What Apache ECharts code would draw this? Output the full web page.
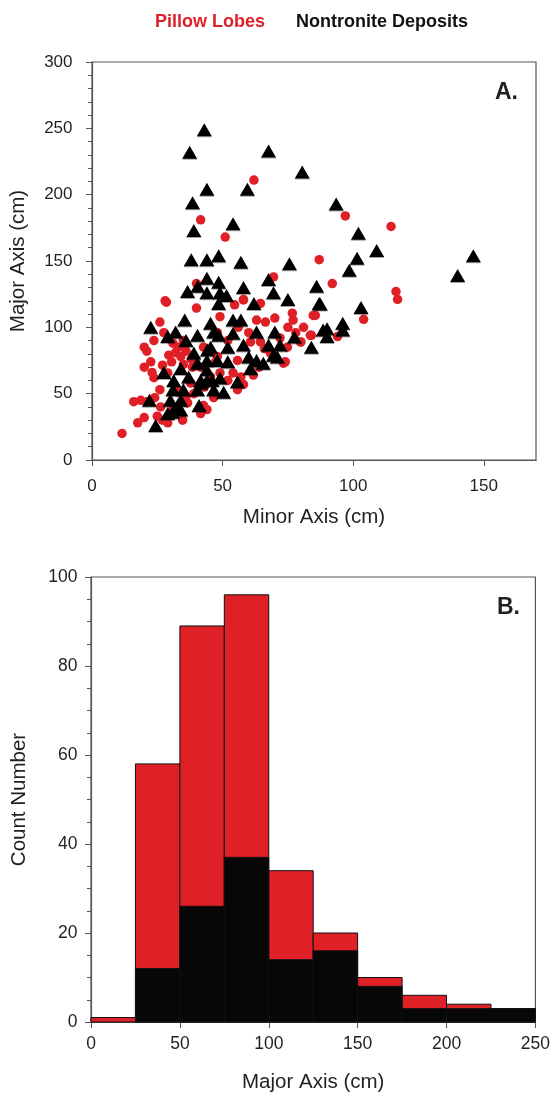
<!DOCTYPE html>
<html>
<head>
<meta charset="utf-8">
<script src="https://cdn.jsdelivr.net/npm/echarts@6/dist/echarts.min.js"></script>
<style>
html,body{margin:0;padding:0;background:#fff;}
#chart{width:553px;height:1095px;}
</style>
</head>
<body>
<div id="chart"></div>
<script>
// ---- Data ----
const seriesNames = ['Pillow Lobes', 'Nontronite Deposits'];

// Panel A: [minor axis (cm), major axis (cm)]
const pillowLobes = [
  [11.5,20],[16,44],[18.7,45],[21,44],[17.5,28],[20,32],[24,47],[26,53],[20,70],[22.5,74],
  [23,66],[23.7,62],[20,85],[21,82],[23.7,90],[27.5,96],[26,104],[28.5,119],[40,114.5],[29.4,79],
  [32,81],[30.5,74],[34,78],[29,65.6],[32.8,53],[36.6,43],[41.6,35],[29,28],[30.9,38],[37.8,58],
  [41.6,70],[45.4,62.6],[48,78],[35,90],[48,96],[44,38],[34.7,30],[26.3,40],[38.5,70],[27,71.5],
  [54.6,117],[58,120.6],[64.5,118],[49,108],[63,105.5],[66.4,104],[70,107],[76.7,110.7],[77,105.5],[75,100],
  [84.7,109],[83.6,94],[79.8,89],[74.8,85],[73.3,73],[68.3,80.6],[64.5,89],[60.7,89],[55.7,75],[61.8,64],
  [57,62.6],[49,65.6],[47.3,74],[42.7,85],[52,60],[55.7,53],[46.6,47],[42.7,41],[62,211],[41.6,181],
  [51,168],[69.5,138],[40,133],[28,120],[58,121],[87,151],[97,184],[114.5,176],[92,133],[116.4,127],
  [117,121],[85.5,109],[104,106],[84,94],[94,93],[80,89],[54,65.6],[74,74],
  [33,85],[36,82],[31,88],[38,76],[35,72],[39,50],[43,55],[36,48],[25,33],[27,30],
  [58,57],[64,70],[70,78],[66,84],[72,92],[78,96],[81,100],[60,96],[52,90],[56,100]
];
const nontronite = [
  [43,249],[37.4,232],[67.6,233],[80.5,217],[44,204],[59.5,204],[38.5,194],[93.5,193],[54,178],[39,173],
  [102,171],[109,158],[101.5,152],[98.5,143],[146,154],[140,139],[86,131],[87,118],[103,115],[96,103],
  [96,98],[90,99],[90,93],[84,85],
  [38,151],[44,151],[48.5,154],[57,149],[75.6,148],[44,137],[48.5,134],[40.5,131],[36.6,127],[58,130],
  [67.6,136],[69.5,126],[75,121],[44,126],[49,126],[51.5,124],[87.4,117.5],[62,118],[48.5,118],
  [45.4,103],[54,105.5],[57,105.5],[63,96.5],[70,96.5],[54,95.6],[48.5,94],[77.5,92.7],[88.5,98],[67.6,86.7],
  [72,86.7],[58,86.7],[52,85],[45.4,85],[71,77.6],[60,77.6],[63,75],[65.6,73],[44,75],[52,74],
  [60.7,69],[55.7,59],[49,61.8],[44,68],[41.6,58],[46.6,53],[50.4,51],[48,75],[44,60],[69.5,79],
  [22.5,100],[35.5,105.5],[32,96.5],[29,93],[36,90],[40.4,94],[44.2,83],[39,80.6],[34,69],[27.5,66],
  [40.4,73],[31.3,60],[37,62.6],[41.6,60],[46,60],[35,53],[31,53],[40.4,53],[22,45],[30,45],
  [34,45],[30.9,36],[29,35],[34,37.7],[41,41],[24.4,26],[32.8,41],[46.6,96.5]
];

// Panel B: histogram of major axis, bins of 25 cm
const binStarts = [0, 25, 50, 75, 100, 125, 150, 175, 200, 225];
const binEnds   = [25, 50, 75, 100, 125, 150, 175, 200, 225, 250];
const pillowCounts     = [1, 58, 89, 96, 34, 20, 10, 6, 4, 3];
const nontroniteCounts = [0, 12, 26, 37, 14, 16, 8, 3, 3, 3];

// Tick labels
const aXTicks = [0, 50, 100, 150];
const aYTicks = [0, 50, 100, 150, 200, 250, 300];
const bXTicks = [0, 50, 100, 150, 200, 250];
const bYTicks = [0, 20, 40, 60, 80, 100];

// ---- Styles ----
const RED = '#df2027';
const BLACK = '#000000';
const TXT = '#231f20';
const AXC = '#555555';
const FONT = 'Liberation Sans, Arial, Helvetica, sans-serif';

const chart = echarts.init(document.getElementById('chart'), null, {renderer: 'canvas'});

function histData(counts) {
  return binStarts.map((s, i) => [s, binEnds[i], counts[i]]);
}
function histRender(color) {
  return function (params, api) {
    const x0 = api.value(0), x1 = api.value(1), y = api.value(2);
    if (!y) return null;
    const p0 = api.coord([x0, y]);
    const p1 = api.coord([x1, 0]);
    return {
      type: 'rect',
      shape: {x: p0[0], y: p0[1], width: p1[0] - p0[0], height: p1[1] - p0[1]},
      style: {fill: color, stroke: '#111', lineWidth: 1}
    };
  };
}

function axisBase(labelSize, margin) {
  return {
    axisLine: {show: true, lineStyle: {color: AXC, width: 1.2}},
    axisTick: {show: true, inside: false, length: 6, lineStyle: {color: AXC}},
    splitLine: {show: false},
    axisLabel: {color: TXT, fontSize: labelSize, fontFamily: FONT, margin: margin},
    nameTextStyle: {color: TXT, fontSize: 20.5, fontFamily: FONT},
    nameLocation: 'middle'
  };
}

const option = {
  backgroundColor: '#fff',
  animation: false,
  grid: [
    {left: 91, top: 62, width: 445, height: 398, show: true, borderColor: AXC, borderWidth: 1.2, backgroundColor: 'transparent'},
    {left: 91, top: 577, width: 445, height: 445, show: true, borderColor: AXC, borderWidth: 1.2, backgroundColor: 'transparent'}
  ],
  xAxis: [
    Object.assign(axisBase(17, 17.5), {
      gridIndex: 0, type: 'value', min: 0, max: 170,
      name: 'Minor Axis (cm)', nameGap: 47,
      axisTick: {show: true, inside: false, length: 6, lineStyle: {color: AXC}, customValues: aXTicks},
      axisLabel: {color: TXT, fontSize: 17, fontFamily: FONT, margin: 17.5, customValues: aXTicks}
    }),
    Object.assign(axisBase(17.5, 13), {
      gridIndex: 1, type: 'value', min: 0, max: 250, interval: 50,
      name: 'Major Axis (cm)', nameGap: 50,
      axisTick: {show: true, inside: false, length: 6, lineStyle: {color: AXC}, customValues: bXTicks},
      axisLabel: {color: TXT, fontSize: 17.5, fontFamily: FONT, margin: 13, customValues: bXTicks}
    })
  ],
  yAxis: [
    Object.assign(axisBase(17, 19.5), {
      gridIndex: 0, type: 'value', min: 0, max: 300, interval: 50,
      name: 'Major Axis (cm)', nameGap: 63,
      minorTick: {show: true, splitNumber: 5, length: 4, lineStyle: {color: AXC}}
    }),
    Object.assign(axisBase(17.5, 13.5), {
      gridIndex: 1, type: 'value', min: 0, max: 100, interval: 20,
      name: 'Count Number', nameGap: 61,
      minorTick: {show: true, splitNumber: 4, length: 4, lineStyle: {color: AXC}}
    })
  ],
  graphic: [
    {type: 'text', left: 155, top: 13, style: {text: seriesNames[0], fill: RED, font: 'bold 18px ' + FONT}},
    {type: 'text', left: 296, top: 13, style: {text: seriesNames[1], fill: '#111', font: 'bold 18px ' + FONT}},
    {type: 'text', left: 495, top: 81, style: {text: 'A.', fill: TXT, font: 'bold 23px ' + FONT}},
    {type: 'text', left: 497, top: 596, style: {text: 'B.', fill: TXT, font: 'bold 23px ' + FONT}}
  ],
  series: [
    {
      name: seriesNames[0], type: 'scatter', xAxisIndex: 0, yAxisIndex: 0,
      symbol: 'circle', symbolSize: 9.5,
      itemStyle: {color: RED, opacity: 1},
      data: pillowLobes, z: 2
    },
    {
      name: seriesNames[1], type: 'scatter', xAxisIndex: 0, yAxisIndex: 0,
      symbol: 'triangle', symbolSize: [15, 13],
      itemStyle: {color: BLACK, opacity: 1, shadowColor: 'rgba(0,0,0,0.35)', shadowOffsetY: 1, shadowBlur: 0},
      data: nontronite, z: 3
    },
    {
      name: seriesNames[0] + ' hist', type: 'custom', xAxisIndex: 1, yAxisIndex: 1,
      renderItem: histRender(RED),
      encode: {x: [0, 1], y: 2},
      data: histData(pillowCounts), z: 2
    },
    {
      name: seriesNames[1] + ' hist', type: 'custom', xAxisIndex: 1, yAxisIndex: 1,
      renderItem: histRender('#070707'),
      encode: {x: [0, 1], y: 2},
      data: histData(nontroniteCounts), z: 3
    }
  ]
};
chart.setOption(option);
</script>
</body>
</html>
